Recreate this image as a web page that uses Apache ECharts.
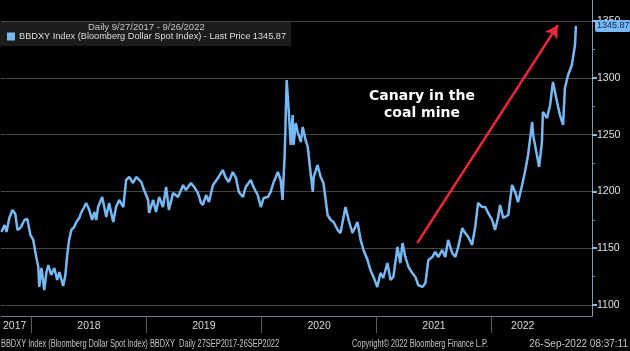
<!DOCTYPE html>
<html>
<head>
<meta charset="utf-8">
<script src="https://cdn.jsdelivr.net/npm/echarts@6/dist/echarts.min.js"></script>
<style>
html, body { margin: 0; padding: 0; background: #000; }
#main { width: 630px; height: 351px; }
</style>
</head>
<body>
<div id="main"></div>
<script>
// BBDXY daily close
var dates = [
    '2017-09-27','2017-10-07','2017-10-13','2017-10-22','2017-11-01','2017-11-10','2017-11-17','2017-11-26','2017-12-09','2017-12-18',
    '2017-12-28','2018-01-06','2018-01-16','2018-01-22','2018-01-25','2018-02-01','2018-02-10','2018-02-17','2018-02-23','2018-03-04',
    '2018-03-14','2018-03-23','2018-03-30','2018-04-11','2018-04-18','2018-04-24','2018-04-30','2018-05-07','2018-05-16','2018-05-23',
    '2018-06-01','2018-06-07','2018-06-17','2018-06-23','2018-07-03','2018-07-12','2018-07-19','2018-07-25','2018-07-31','2018-08-13',
    '2018-08-26','2018-09-04','2018-09-17','2018-09-26','2018-10-06','2018-10-19','2018-10-28','2018-11-07','2018-11-19','2018-11-29',
    '2018-12-15','2018-12-24','2019-01-06','2019-01-09','2019-01-22','2019-01-31','2019-02-10','2019-02-22','2019-03-04','2019-03-13',
    '2019-03-26','2019-04-11','2019-04-27','2019-05-06','2019-05-22','2019-06-01','2019-06-13','2019-06-23','2019-06-29','2019-07-09',
    '2019-07-18','2019-07-31','2019-08-16','2019-08-31','2019-09-10','2019-09-19','2019-10-02','2019-10-12','2019-10-21','2019-11-03',
    '2019-11-12','2019-11-28','2019-12-08','2019-12-20','2019-12-30','2020-01-08','2020-01-21','2020-01-30','2020-02-09','2020-02-22',
    '2020-03-02','2020-03-08','2020-03-15','2020-03-21','2020-03-27','2020-04-03','2020-04-09','2020-04-12','2020-04-19','2020-04-25',
    '2020-05-05','2020-05-11','2020-05-20','2020-05-27','2020-06-05','2020-06-12','2020-06-15','2020-06-27','2020-07-07','2020-07-16',
    '2020-07-29','2020-08-08','2020-08-17','2020-08-30','2020-09-08','2020-09-24','2020-10-04','2020-10-16','2020-11-01','2020-11-11',
    '2020-11-20','2020-12-03','2020-12-12','2020-12-22','2021-01-03','2021-01-13','2021-01-22','2021-02-04','2021-02-14','2021-02-23',
    '2021-03-08','2021-03-17','2021-03-24','2021-04-02','2021-04-12','2021-04-24','2021-05-04','2021-05-13','2021-05-26','2021-06-05',
    '2021-06-14','2021-06-27','2021-07-06','2021-07-16','2021-07-28','2021-08-07','2021-08-16','2021-08-29','2021-09-08','2021-09-17',
    '2021-09-30','2021-10-09','2021-10-19','2021-10-31','2021-11-10','2021-11-19','2021-12-02','2021-12-12','2021-12-21','2022-01-03',
    '2022-01-12','2022-01-22','2022-01-28','2022-02-07','2022-02-23','2022-03-07','2022-03-17','2022-03-26','2022-04-08','2022-04-17',
    '2022-04-27','2022-05-10','2022-05-13','2022-05-25','2022-06-01','2022-06-10','2022-06-13','2022-06-26','2022-07-06','2022-07-15',
    '2022-07-28','2022-08-06','2022-08-16','2022-08-22','2022-09-01','2022-09-13','2022-09-23','2022-09-26'
];
var prices = [
    1164.3,1170.5,1164.3,1176.6,1183.7,1180.2,1166.1,1167.8,1174.9,1175.8,
    1161.7,1157.3,1141.4,1133.5,1115.9,1132.6,1113.2,1129.1,1135.2,1126.4,
    1132.6,1122.0,1129.1,1116.7,1126.4,1144.1,1157.3,1166.1,1168.7,1173.1,
    1176.6,1181.1,1186.3,1189.9,1183.7,1174.9,1181.9,1174.9,1186.3,1195.1,
    1177.5,1189.9,1173.1,1186.3,1192.5,1186.3,1210.1,1212.8,1207.5,1212.8,
    1208.4,1201.3,1192.5,1181.1,1192.5,1181.9,1195.1,1186.3,1204.0,1183.7,
    1198.7,1195.1,1205.7,1201.3,1207.5,1204.0,1198.7,1189.9,1188.1,1196.9,
    1190.7,1205.7,1211.9,1218.9,1211.9,1208.4,1217.2,1211.9,1199.6,1195.1,
    1204.0,1210.1,1203.1,1196.9,1186.3,1194.3,1195.1,1199.6,1208.4,1217.2,
    1210.1,1192.5,1234.8,1298.2,1273.6,1241.0,1267.4,1241.0,1260.3,1252.4,
    1243.6,1256.8,1245.4,1239.2,1216.3,1199.6,1212.8,1223.3,1212.8,1207.5,
    1179.3,1174.9,1173.1,1166.1,1163.4,1186.3,1174.9,1163.4,1173.1,1157.3,
    1148.5,1139.6,1130.8,1124.7,1115.9,1128.2,1123.8,1137.0,1122.0,1124.7,
    1151.1,1137.0,1154.6,1142.3,1133.5,1128.2,1124.7,1117.6,1115.9,1119.4,
    1139.6,1142.3,1146.7,1142.3,1148.5,1142.3,1157.3,1145.8,1142.3,1151.1,
    1167.8,1163.4,1159.9,1152.9,1168.7,1189.9,1186.3,1186.3,1181.1,1174.9,
    1166.1,1177.5,1188.1,1176.6,1179.3,1205.7,1199.6,1190.7,1205.7,1217.2,
    1232.2,1261.2,1249.8,1232.2,1221.6,1243.6,1270.0,1264.7,1276.2,1296.5,
    1278.8,1267.4,1258.6,1291.2,1302.6,1311.4,1329.1,1345.87
];
var lastPrice = 1345.87;
var yearStarts = ['2018-01-01', '2019-01-01', '2020-01-01', '2021-01-01', '2022-01-01'];
var yearLabelDates = ['2017-11-08', '2018-07-02', '2019-07-02', '2020-07-02', '2021-07-02', '2022-04-10'];
var yTicks = [1100, 1150, 1200, 1250, 1300, 1350];
var yMinorTicks = [1125, 1175, 1225, 1275, 1325];
var arrowFrom = ['2021-05-10', 1154.6];
var arrowTo = ['2022-07-31', 1346.7];

var FONT = '"Liberation Sans", Arial, sans-serif';
var SERIES_NAME = 'BBDXY Index (Bloomberg Dollar Spot Index) - Last Price 1345.87';
var LINE_BLUE = '#76b9f4';

function ts(s) {
    return echarts.time.parse(s).getTime();
}

// narrow footer text, Bloomberg style
function footText(text, x, align, squeeze) {
    return {
        type: 'text',
        x: x,
        y: 344,
        scaleX: squeeze,
        style: {
            text: text,
            fill: '#c4c4c4',
            font: '10px ' + FONT,
            align: align,
            verticalAlign: 'middle'
        }
    };
}

var chart = echarts.init(document.getElementById('main'));

var option = {
    backgroundColor: '#000',
    animation: false,
    textStyle: { fontFamily: FONT },
    grid: { left: 0, right: 38, top: 0, bottom: 35, containLabel: false },
    title: {
        text: 'Daily 9/27/2017 - 9/26/2022',
        left: 88,
        top: 22,
        padding: 0,
        textStyle: { color: '#c4c4c4', fontSize: 9.5, fontWeight: 'normal', fontFamily: FONT }
    },
    legend: {
        left: 7,
        top: 32,
        padding: 0,
        icon: 'rect',
        itemWidth: 8,
        itemHeight: 8,
        itemGap: 4,
        textStyle: { color: '#dcdcdc', fontSize: 9.2, fontFamily: FONT, padding: [0, 0, 0, -1] },
        data: [SERIES_NAME]
    },
    graphic: [
        {
            type: 'rect',
            left: 0,
            top: 22,
            z: 0,
            shape: { width: 291, height: 24 },
            style: { fill: '#1c1c1c' }
        },
        {
            type: 'text',
            x: 422,
            y: 105,
            z: 10,
            style: {
                text: 'Canary in the\ncoal mine',
                fill: '#ffffff',
                font: 'bold 14px "DejaVu Sans", sans-serif',
                align: 'center',
                verticalAlign: 'middle',
                lineHeight: 17
            }
        },
        footText('BBDXY Index (Bloomberg Dollar Spot Index) BBDXY  Daily 27SEP2017-26SEP2022', 1, 'left', 0.74),
        footText('Copyright\u00a9 2022 Bloomberg Finance L.P.', 420, 'center', 0.74),
        footText('26-Sep-2022 08:37:11', 628, 'right', 1)
    ],
    xAxis: {
        type: 'value',
        min: ts('2017-09-27'),
        max: ts('2022-11-16'),
        axisLine: { show: true, lineStyle: { color: '#6f7f8f' } },
        axisTick: {
            show: true,
            customValues: yearStarts.map(ts),
            length: 17,
            lineStyle: { color: '#5a5a5a' }
        },
        axisLabel: {
            customValues: yearLabelDates.map(ts),
            color: '#d8d8d8',
            fontSize: 10.5,
            margin: 5,
            fontFamily: FONT,
            formatter: function (v) {
                return String(new Date(v).getFullYear());
            }
        },
        splitLine: { show: false }
    },
    yAxis: [
        {
            type: 'value',
            position: 'right',
            min: 1090.3,
            max: 1368.7,
            axisLine: { show: true, lineStyle: { color: '#7e9db8', width: 1 } },
            axisTick: { show: true, customValues: yTicks, length: 5, lineStyle: { color: '#8fbde2', width: 2 } },
            axisLabel: {
                customValues: yTicks,
                color: '#e0e0e0',
                fontSize: 10.5,
                margin: 5,
                fontFamily: FONT,
                formatter: function (v) { return String(v); }
            },
            splitLine: { show: true, lineStyle: { color: '#8c8c8c', type: 'dotted', width: 1 } }
        },
        {
            type: 'value',
            position: 'right',
            min: 1090.3,
            max: 1368.7,
            axisLine: { show: false },
            axisTick: { show: true, customValues: yMinorTicks, length: 3, lineStyle: { color: '#6f8ca6' } },
            axisLabel: { show: false },
            splitLine: { show: false }
        }
    ],
    series: [
        {
            name: SERIES_NAME,
            type: 'line',
            showSymbol: false,
            symbol: 'none',
            z: 5,
            itemStyle: { color: LINE_BLUE },
            lineStyle: { color: LINE_BLUE, width: 2.5 },
            data: dates.map(function (d, i) { return [ts(d), prices[i]]; }),
            markLine: {
                silent: true,
                symbol: ['none', 'none'],
                animation: false,
                data: [
                    {
                        yAxis: lastPrice,
                        lineStyle: { color: 'rgba(0,0,0,0)', width: 0 },
                        label: {
                            show: true,
                            position: 'end',
                            distance: 3,
                            formatter: lastPrice.toFixed(2),
                            color: '#0d2c48',
                            backgroundColor: LINE_BLUE,
                            fontSize: 9,
                            fontFamily: FONT,
                            padding: [2, 1, 1, 2],
                            borderRadius: 2
                        }
                    },
                    [
                        {
                            coord: [ts(arrowFrom[0]), arrowFrom[1]],
                            symbol: 'none',
                            lineStyle: { color: '#e8283c', width: 2.5, type: 'solid' },
                            label: { show: false }
                        },
                        {
                            coord: [ts(arrowTo[0]), arrowTo[1]],
                            symbol: 'arrow',
                            symbolSize: [11, 13]
                        }
                    ]
                ]
            }
        }
    ]
};

chart.setOption(option);
</script>
</body>
</html>
